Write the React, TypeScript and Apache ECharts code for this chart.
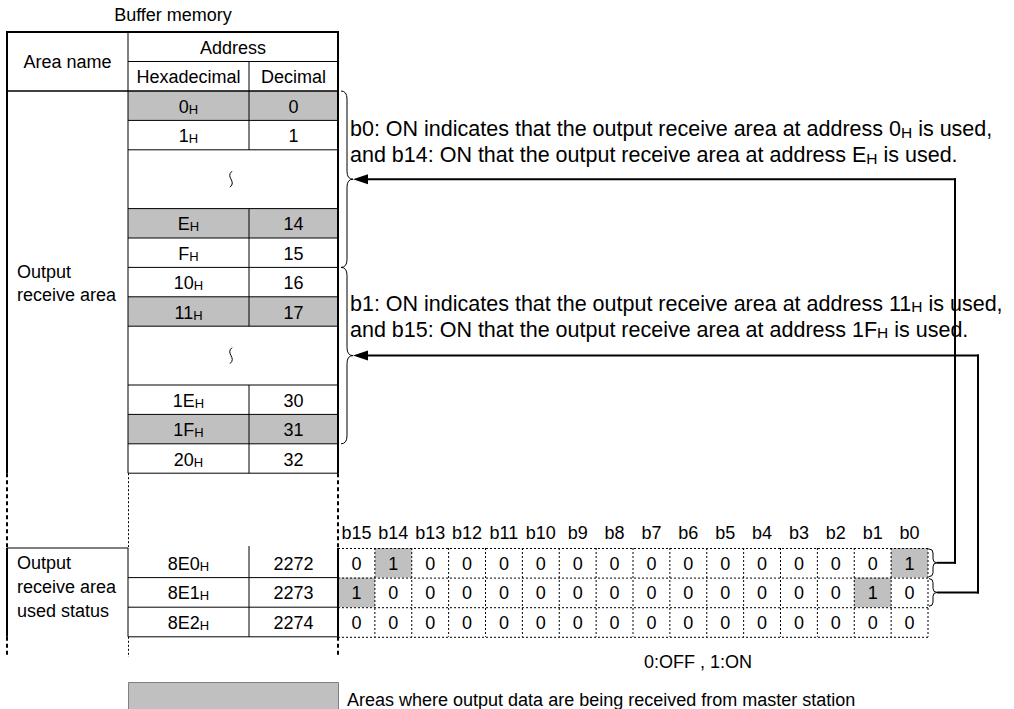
import React, { useEffect, useRef } from "react";
import * as echarts from "echarts";

// ---------- data ----------
const titleText = "Buffer memory";
const headerArea = "Area name";
const headerAddress = "Address";
const headerHex = "Hexadecimal";
const headerDec = "Decimal";
const areaLabel = ["Output", "receive area"];
const statusLabel = ["Output", "receive area", "used status"];
// "~" marks an omitted range (wave symbol)
const areaHex = ["0", "1", "~", "E", "F", "10", "11", "~", "1E", "1F", "20"];
const areaDec = ["0", "1", "~", "14", "15", "16", "17", "~", "30", "31", "32"];
const areaShaded = [true, false, false, true, false, false, true, false, false, true, false];
const statusHex = ["8E0", "8E1", "8E2"];
const statusDec = ["2272", "2273", "2274"];
const bitLabels = ["b15", "b14", "b13", "b12", "b11", "b10", "b9", "b8", "b7", "b6", "b5", "b4", "b3", "b2", "b1", "b0"];
const bitRow0 = [0, 1, 0, 0, 0, 0, 0, 0, 0, 0, 0, 0, 0, 0, 0, 1];
const bitRow1 = [1, 0, 0, 0, 0, 0, 0, 0, 0, 0, 0, 0, 0, 0, 1, 0];
const bitRow2 = [0, 0, 0, 0, 0, 0, 0, 0, 0, 0, 0, 0, 0, 0, 0, 0];
const note1 = [
  "b0: ON indicates that the output receive area at address 0{h|H} is used,",
  "and b14: ON that the output receive area at address E{h|H} is used.",
];
const note2 = [
  "b1: ON indicates that the output receive area at address 11{h|H} is used,",
  "and b15: ON that the output receive area at address 1F{h|H} is used.",
];
const onOffText = "0:OFF , 1:ON";
const legendText = "Areas where output data are being received from master station";

// ---------- layout ----------
const FONT = "'Liberation Sans', Arial, Helvetica, sans-serif";
const FS = 18;
const SUB = 13;
const NOTE_FS = 21.5;
const NOTE_SUB = 15.5;
const GRAY = "#c0c0c0";
const X0 = 7, X1 = 128, X2 = 249, X3 = 338;
const YT = 32, YA = 61.5, YH = 91, RH = 29.4;
const YS = 548, SRH = 29.6;
const BW = (928 - X3) / 16;

function txt(x: number, y: number, text: string, align = "center", fs = FS, sub = SUB) {
  return {
    type: "text",
    x,
    y,
    silent: true,
    style: {
      text,
      fontFamily: FONT,
      fontSize: fs,
      fill: "#000",
      align,
      verticalAlign: "middle",
      rich: { h: { fontSize: sub, fontFamily: FONT, fill: "#000", verticalAlign: "bottom" } },
    },
  };
}
function ln(x1: number, y1: number, x2: number, y2: number, w = 1, dash?: number[]) {
  return {
    type: "line",
    silent: true,
    shape: { x1, y1, x2, y2 },
    style: { stroke: "#000", lineWidth: w, lineDash: dash || null },
  };
}
function rect(x: number, y: number, w: number, h: number, fill: string, stroke?: string) {
  return {
    type: "rect",
    silent: true,
    shape: { x, y, width: w, height: h },
    style: { fill, stroke: stroke || null, lineWidth: 1 },
  };
}
function quad(x1: number, y1: number, cx: number, cy: number, x2: number, y2: number, w = 1) {
  return {
    type: "bezierCurve",
    silent: true,
    shape: { x1, y1, x2, y2, cpx1: cx, cpy1: cy },
    style: { stroke: "#000", lineWidth: w, fill: null },
  };
}
// right-pointing curly brace
function brace(xl: number, xm: number, xr: number, y0: number, y1: number, r: number) {
  const ym = (y0 + y1) / 2;
  return [
    quad(xl, y0, xm, y0, xm, y0 + r),
    ln(xm, y0 + r, xm, ym - r),
    quad(xm, ym - r, xm, ym, xr, ym),
    quad(xr, ym, xm, ym, xm, ym + r),
    ln(xm, ym + r, xm, y1 - r),
    quad(xm, y1 - r, xm, y1, xl, y1),
  ];
}
function wave(x: number, y: number) {
  return {
    type: "bezierCurve",
    silent: true,
    shape: { x1: x + 1, y1: y - 8, cpx1: x - 6, cpy1: y - 2, cpx2: x + 6, cpy2: y + 2, x2: x - 1, y2: y + 8 },
    style: { stroke: "#000", lineWidth: 1, fill: null },
  };
}
function arrowHead(x: number, y: number) {
  return {
    type: "polygon",
    silent: true,
    shape: { points: [[x, y], [x + 15, y - 5], [x + 15, y + 5]] },
    style: { fill: "#000" },
  };
}

function buildGraphics() {
  const g: any[] = [];
  g.push(txt(173, 15, titleText));

  // ----- upper table -----
  let y = YH;
  const rowTops: number[] = [];
  areaHex.forEach((h, i) => {
    const span = h === "~" ? 2 : 1;
    rowTops.push(y);
    if (areaShaded[i]) g.push(rect(X1, y, X3 - X1, RH * span, GRAY));
    y += RH * span;
  });
  const yEnd = y;
  g.push(txt((X0 + X1) / 2, (YT + YH) / 2, headerArea));
  g.push(txt((X1 + X3) / 2, (YT + YA) / 2 + 1, headerAddress));
  g.push(txt((X1 + X2) / 2, (YA + YH) / 2 + 1, headerHex));
  g.push(txt((X2 + X3) / 2, (YA + YH) / 2 + 1, headerDec));
  g.push(ln(X0 - 1, YT, X3 + 1, YT, 2));
  g.push(ln(X1, YA, X3, YA, 1));
  g.push(ln(X0, YH, X3, YH, 1.5));
  g.push(ln(X1, YT, X1, yEnd, 1));
  g.push(ln(X2, YA, X2, YH, 1));
  areaHex.forEach((h, i) => {
    const top = rowTops[i];
    const span = h === "~" ? 2 : 1;
    const bot = top + RH * span;
    const cy = top + (RH * span) / 2 + 1;
    if (h === "~") {
      g.push(wave((X1 + X3) / 2 - 2, cy - 1));
    } else {
      g.push(txt((X1 + X2) / 2, cy, h + "{h|H}"));
      g.push(txt((X2 + X3) / 2, cy, areaDec[i]));
      g.push(ln(X2, top, X2, bot, 1));
    }
    g.push(ln(X1, bot, X3, bot, 1));
  });
  g.push(txt(17, 272, areaLabel[0], "left"));
  g.push(txt(17, 295, areaLabel[1], "left"));
  g.push(ln(X0, YT, X0, yEnd, 2));
  g.push(ln(X3, YT, X3, yEnd, 2));
  g.push(ln(X0, yEnd, X0, YS, 2, [4, 3]));
  g.push(ln(X3, yEnd, X3, YS, 2, [4, 3]));
  g.push(ln(X1 + 0.5, yEnd, X1 + 0.5, YS, 1, [2, 2]));

  // ----- status rows -----
  const bitRows = [bitRow0, bitRow1, bitRow2];
  const yS3 = YS + SRH * 3;
  bitRows.forEach((row, r) => {
    row.forEach((v, c) => {
      if (v === 1) g.push(rect(X3 + c * BW, YS + r * SRH, BW, SRH, GRAY));
    });
  });
  g.push(ln(X0, YS, X1, YS, 1));
  g.push(ln(X0, YS, X0, yS3, 2));
  g.push(ln(X1, YS, X1, yS3, 1));
  g.push(ln(X2, YS - 2, X2, yS3, 1));
  g.push(ln(X3, YS, X3, yS3, 2));
  for (let r = 1; r <= 3; r++) g.push(ln(X1, YS + r * SRH, X3, YS + r * SRH, 1));
  statusHex.forEach((h, r) => {
    const cy = YS + r * SRH + SRH / 2 + 1;
    g.push(txt((X1 + X2) / 2, cy, h + "{h|H}"));
    g.push(txt((X2 + X3) / 2, cy, statusDec[r]));
  });
  g.push(txt(17, 563, statusLabel[0], "left"));
  g.push(txt(17, 587, statusLabel[1], "left"));
  g.push(txt(17, 611, statusLabel[2], "left"));
  g.push(ln(X0, yS3, X0, 657, 2, [4, 3]));
  g.push(ln(X3, yS3, X3, 657, 2, [4, 3]));
  g.push(ln(X1 + 0.5, yS3, X1 + 0.5, 657, 1, [2, 2]));

  // ----- bit table -----
  const BX1 = X3 + 16 * BW;
  for (let r = 0; r <= 3; r++) g.push(ln(X3, YS + r * SRH + 0.5, BX1, YS + r * SRH + 0.5, 1, [2, 2]));
  for (let c = 1; c <= 16; c++) g.push(ln(X3 + c * BW, YS, X3 + c * BW, yS3, 1, [2, 2]));
  bitLabels.forEach((b, c) => g.push(txt(X3 + c * BW + BW / 2, 533, b)));
  bitRows.forEach((row, r) => {
    row.forEach((v, c) => g.push(txt(X3 + c * BW + BW / 2, YS + r * SRH + SRH / 2 + 1, String(v))));
  });

  // ----- big braces & arrows -----
  const b1top = YH, b1bot = YH + 6 * RH, b2bot = YH + 12 * RH;
  g.push(...brace(341, 347, 353, b1top, b1bot, 8));
  g.push(...brace(341, 347, 353, b1bot, b2bot, 8));
  const a1 = (b1top + b1bot) / 2;
  const a2 = (b1bot + b2bot) / 2;
  const V1 = 955, V2 = 978;
  const r0 = YS + SRH / 2, r1 = YS + SRH * 1.5;
  g.push(...brace(BX1 + 1, BX1 + 5, BX1 + 9, YS + 1, YS + SRH - 1, 4));
  g.push(...brace(BX1 + 1, BX1 + 5, BX1 + 9, YS + SRH + 1, YS + 2 * SRH - 1, 4));
  g.push(ln(BX1 + 9, r0, V1 + 1, r0, 2));
  g.push(ln(V1, r0 + 1, V1, a1 - 1, 2));
  g.push(ln(V1 + 1, a1, 364, a1, 2));
  g.push(arrowHead(353, a1));
  g.push(ln(BX1 + 9, r1, V2 + 1, r1, 2));
  g.push(ln(V2, r1 + 1, V2, a2 - 1, 2));
  g.push(ln(V2 + 1, a2, 364, a2, 2));
  g.push(arrowHead(353, a2));
  // notes
  const NX = 350;
  g.push(txt(NX, a1 - 50, note1[0], "left", NOTE_FS, NOTE_SUB));
  g.push(txt(NX, a1 - 24, note1[1], "left", NOTE_FS, NOTE_SUB));
  g.push(txt(NX, a2 - 52, note2[0], "left", NOTE_FS, NOTE_SUB));
  g.push(txt(NX, a2 - 26, note2[1], "left", NOTE_FS, NOTE_SUB));

  // ----- footer -----
  g.push(txt(698, 662, onOffText));
  g.push(rect(X1 + 0.5, 682.5, X3 - X1, 40, GRAY, "#808080"));
  g.push(txt(347, 700, legendText, "left"));
  return g;
}

export default function App() {
  const ref = useRef<HTMLDivElement>(null);
  useEffect(() => {
    document.body.style.margin = "0";
    const chart = echarts.init(ref.current as HTMLDivElement, null, { renderer: "svg" });
    chart.setOption({
      animation: false,
      backgroundColor: "#ffffff",
      graphic: { elements: buildGraphics() },
    });
    return () => chart.dispose();
  }, []);
  return <div ref={ref} style={{ width: 1014, height: 709 }} />;
}
